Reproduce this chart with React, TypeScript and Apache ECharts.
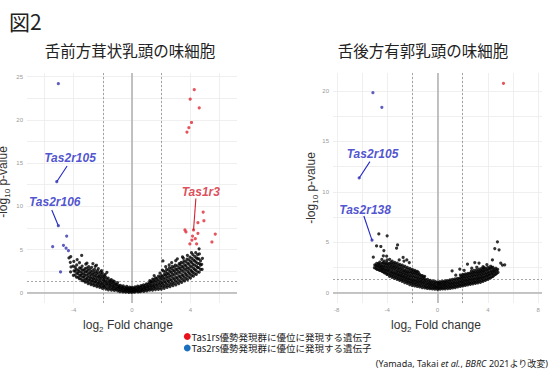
import React, { useEffect, useRef } from "react";
import * as echarts from "echarts";

// ---------- data ----------
const TITLE_FIG = "図2";
const TITLE_LEFT = "舌前方茸状乳頭の味細胞";
const TITLE_RIGHT = "舌後方有郭乳頭の味細胞";
const LEGEND_RED = "Tas1rs優勢発現群に優位に発現する遺伝子";
const LEGEND_BLUE = "Tas2rs優勢発現群に優位に発現する遺伝子";

const L_X_LABELS = [-4, 0, 4];
const L_Y_LABELS = [0, 5, 10, 15, 20, 25];
const L_X_GRID = [-6, -4, -2, 0, 2, 4, 6];
const L_Y_GRID = [0, 2.5, 5, 7.5, 10, 12.5, 15, 17.5, 20, 22.5, 25];
const R_X_LABELS = [-8, -4, 0, 4, 8];
const R_Y_LABELS = [0, 5, 10, 15, 20];
const R_X_GRID = [-8, -6, -4, -2, 0, 2, 4, 6, 8];
const R_Y_GRID = [0, 2.5, 5, 7.5, 10, 12.5, 15, 17.5, 20];

const FC_CUT = [-2, 2];
const P_CUT = 1.3;

const L_BLUE = [[-5.05,24.2],[-5.16,12.85],[-5.05,7.75],[-4.48,6.56],[-5.44,5.33],[-4.7,5.48],[-4.52,5.17],[-4.36,4.86],[-4.9,2.4]];
const L_RED = [[4.27,23.5],[3.99,22.4],[4.61,21.4],[4.08,19.7],[3.9,19.1],[3.77,18.6],[4.22,7.26],[4.88,9.34],[4.93,8.33],[4.52,8.1],[3.63,7.26],[3.7,7.03],[4.52,6.87],[5.71,6.79],[4.15,6.56],[4.11,6.1],[4.34,6.25],[5.48,5.87],[3.97,5.64],[4.43,5.64]];
const L_BLACK = [
[-0.98,0.22],[-1.02,0.48],[-0.95,0.71],[-1.05,0.93],[-0.99,1.16],
[-0.83,0.14],[-0.78,0.37],[-0.85,0.6],[-0.8,0.86],
[-0.62,0.1],[-0.57,0.31],[-0.64,0.55],[-0.6,0.79],
[-0.43,0.07],[-0.38,0.29],[-0.41,0.5],[-0.36,0.74],
[-0.22,0.05],[-0.18,0.24],[-0.24,0.46],[-0.16,0.66],
[-0.02,0.04],[0.03,0.21],[-0.05,0.43],[0.01,0.61],
[0.18,0.06],[0.23,0.26],[0.16,0.44],[0.21,0.67],
[0.42,0.09],[0.37,0.31],[0.44,0.53],[0.39,0.76],
[0.58,0.12],[0.63,0.34],[0.57,0.59],[0.62,0.83],
[0.81,0.16],[0.77,0.41],[0.84,0.64],[0.79,0.91],
[1.02,0.21],[0.97,0.46],[1.04,0.73],[0.99,1.02],
[-1.21,0.26],[-1.18,0.52],[-1.24,0.79],[-1.19,1.08],[-1.22,1.31],
[-1.41,0.31],[-1.38,0.59],[-1.43,0.92],[-1.39,1.19],[-1.42,1.52],
[-1.62,0.34],[-1.58,0.66],[-1.61,0.98],[-1.57,1.31],[-1.63,1.69],
[-1.79,0.42],[-1.83,0.74],[-1.78,1.07],[-1.82,1.38],[-1.8,1.79],[-1.84,2.12],
[-2.02,0.49],[-1.98,0.82],[-2.03,1.14],[-1.97,1.52],[-2.01,1.88],[-2.04,2.31],
[-2.21,0.62],[-2.18,0.94],[-2.23,1.29],[-2.19,1.66],[-2.22,1.98],[-2.17,2.42],
[-2.41,0.71],[-2.38,1.04],[-2.43,1.41],[-2.39,1.79],[-2.42,2.21],[-2.37,2.56],[-2.44,3.18],
[-2.61,0.82],[-2.58,1.19],[-2.63,1.56],[-2.59,1.91],[-2.62,2.29],[-2.57,2.71],
[-2.81,0.94],[-2.78,1.31],[-2.83,1.68],[-2.79,2.06],[-2.82,2.44],[-2.77,2.92],
[-3.01,1.06],[-2.98,1.44],[-3.03,1.81],[-2.99,2.19],[-3.02,2.61],[-2.97,3.02],
[-3.21,1.22],[-3.18,1.58],[-3.23,2.02],[-3.19,2.41],[-3.22,2.79],[-3.17,3.31],
[-3.41,1.39],[-3.38,1.82],[-3.43,2.21],[-3.39,2.62],[-3.42,3.09],[-3.45,4.32],
[-3.61,1.62],[-3.58,2.01],[-3.63,2.48],[-3.59,2.88],[-3.6,3.47],
[-3.81,1.81],[-3.78,2.29],[-3.83,2.72],[-3.79,3.21],[-3.76,3.84],
[-4.02,2.02],[-3.98,2.52],[-4.03,3.08],[-3.99,3.62],
[-4.21,2.41],[-4.18,2.98],[-4.23,3.52],[-4.2,4.18],[-4.32,4.02],
[-2.31,2.78],[-2.52,3.05],[-2.09,2.55],[-1.72,2.36],[-3.09,3.42],[-2.68,3.36],
[1.21,0.29],[1.18,0.56],[1.23,0.84],[1.19,1.14],[1.22,1.41],
[1.41,0.31],[1.38,0.61],[1.43,0.92],[1.39,1.24],[1.42,1.56],
[1.61,0.36],[1.58,0.69],[1.63,1.01],[1.59,1.36],[1.62,1.71],
[1.81,0.39],[1.78,0.76],[1.83,1.12],[1.79,1.49],[1.82,1.91],
[2.01,0.42],[1.98,0.81],[2.03,1.19],[1.99,1.62],[2.02,1.99],[2.08,2.62],[2.12,3.68],
[2.21,0.51],[2.18,0.89],[2.23,1.31],[2.19,1.72],[2.22,2.11],[2.17,2.49],
[2.41,0.62],[2.38,1.01],[2.43,1.44],[2.39,1.86],[2.42,2.24],[2.37,2.71],
[2.61,0.71],[2.58,1.12],[2.63,1.54],[2.59,1.99],[2.62,2.46],[2.57,2.89],[2.55,3.21],
[2.81,0.82],[2.78,1.21],[2.83,1.69],[2.79,2.14],[2.82,2.61],[2.77,3.04],
[3.01,0.91],[2.98,1.36],[3.03,1.79],[2.99,2.31],[3.02,2.74],[2.97,3.19],[3.0,3.71],
[3.21,1.06],[3.18,1.49],[3.23,1.96],[3.19,2.44],[3.22,2.91],[3.24,3.36],
[3.41,1.21],[3.38,1.66],[3.43,2.09],[3.39,2.61],[3.42,3.04],[3.37,3.52],[3.46,4.14],
[3.61,1.36],[3.58,1.81],[3.63,2.29],[3.59,2.76],[3.62,3.21],[3.57,3.69],
[3.81,1.52],[3.78,1.99],[3.83,2.46],[3.79,2.89],[3.82,3.41],[3.77,3.88],[3.8,4.33],
[4.01,1.69],[3.98,2.16],[4.03,2.61],[3.99,3.09],[4.02,3.62],[3.97,4.11],
[4.21,1.91],[4.18,2.34],[4.23,2.81],[4.19,3.29],[4.22,3.81],[4.17,4.42],
[4.41,2.12],[4.38,2.59],[4.43,3.06],[4.39,3.54],[4.42,4.02],[4.37,4.63],
[4.61,2.39],[4.58,2.91],[4.63,3.38],[4.59,3.91],[4.62,4.49],[4.6,5.08],
[4.81,2.71],[4.78,3.29],[4.83,3.98],
[1.52,1.98],[1.92,2.28],[2.31,3.02],[2.72,3.48],[3.11,3.92],[3.52,4.01],[4.08,4.63]
];
const L_BLACK_DENSE = [
[-0.9,0.33],[-0.9,0.58],[-0.9,0.82],[-0.7,0.22],[-0.7,0.47],[-0.7,0.69],[-0.5,0.18],[-0.5,0.41],[-0.5,0.63],[-0.3,0.15],[-0.3,0.37],[-0.3,0.57],[-0.1,0.13],[-0.1,0.34],[-0.1,0.53],[0.1,0.14],[0.1,0.35],[0.1,0.54],[0.3,0.17],[0.3,0.4],[0.3,0.6],[0.5,0.2],[0.5,0.45],[0.5,0.68],[0.7,0.25],[0.7,0.51],[0.7,0.75],[0.9,0.3],[0.9,0.58],[0.9,0.84],
[-1.1,0.36],[-1.1,0.64],[-1.1,0.93],[-1.3,0.42],[-1.3,0.73],[-1.3,1.04],[-1.3,1.38],[-1.5,0.48],[-1.5,0.81],[-1.5,1.14],[-1.5,1.44],[-1.7,0.55],[-1.7,0.88],[-1.7,1.2],[-1.7,1.55],[-1.9,0.62],[-1.9,0.96],[-1.9,1.3],[-1.9,1.65],[-1.9,1.98],[-2.1,0.71],[-2.1,1.05],[-2.1,1.4],[-2.1,1.76],[-2.1,2.12],[-2.3,0.81],[-2.3,1.15],[-2.3,1.52],[-2.3,1.88],[-2.3,2.26],[-2.5,0.92],[-2.5,1.27],[-2.5,1.63],[-2.5,2.02],[-2.5,2.4],[-2.7,1.02],[-2.7,1.39],[-2.7,1.76],[-2.7,2.15],[-2.7,2.55],[-2.9,1.15],[-2.9,1.52],[-2.9,1.9],[-2.9,2.3],[-2.9,2.72],[-3.1,1.28],[-3.1,1.64],[-3.1,2.05],[-3.1,2.45],[-3.1,2.86],[-3.3,1.42],[-3.3,1.81],[-3.3,2.2],[-3.3,2.6],[-3.5,1.6],[-3.5,2.0],[-3.5,2.4],[-3.5,2.82],[-3.7,1.8],[-3.7,2.2],[-3.7,2.62],[-3.9,2.05],[-3.9,2.5],[-3.9,2.95],
[1.1,0.4],[1.1,0.7],[1.1,1.0],[1.3,0.45],[1.3,0.76],[1.3,1.08],[1.3,1.3],[1.5,0.5],[1.5,0.83],[1.5,1.18],[1.5,1.5],[1.7,0.55],[1.7,0.91],[1.7,1.28],[1.7,1.65],[1.9,0.6],[1.9,0.99],[1.9,1.38],[1.9,1.78],[2.1,0.68],[2.1,1.08],[2.1,1.5],[2.1,1.9],[2.3,0.76],[2.3,1.18],[2.3,1.6],[2.3,2.03],[2.3,2.42],[2.5,0.86],[2.5,1.3],[2.5,1.74],[2.5,2.18],[2.5,2.62],[2.7,0.97],[2.7,1.42],[2.7,1.88],[2.7,2.34],[2.7,2.8],[2.9,1.08],[2.9,1.55],[2.9,2.03],[2.9,2.5],[2.9,2.96],[3.1,1.2],[3.1,1.7],[3.1,2.18],[3.1,2.66],[3.1,3.1],[3.3,1.34],[3.3,1.84],[3.3,2.32],[3.3,2.8],[3.3,3.26],[3.5,1.5],[3.5,1.98],[3.5,2.48],[3.5,2.96],[3.5,3.44],[3.7,1.65],[3.7,2.13],[3.7,2.64],[3.7,3.12],[3.7,3.6],[3.9,1.82],[3.9,2.3],[3.9,2.8],[3.9,3.3],[3.9,3.8],[4.1,2.0],[4.1,2.48],[4.1,2.98],[4.1,3.48],[4.1,3.98],[4.3,2.2],[4.3,2.68],[4.3,3.18],[4.3,3.68],[4.3,4.2],[4.5,2.42],[4.5,2.9],[4.5,3.4],[4.5,3.92],[4.5,4.4],[4.7,2.7],[4.7,3.2],[4.7,3.7]
];

const R_BLUE = [[-5.13,19.84],[-4.42,18.39],[-6.22,11.38],[-5.2,5.2]];
const R_RED = [[5.24,20.77]];
const R_BLACK = [
[-1.01,0.46],[-0.98,0.74],[-1.03,1.06],[-0.99,1.34],[-1.02,1.61],
[-0.81,0.41],[-0.78,0.69],[-0.83,0.99],[-0.79,1.31],
[-0.61,0.38],[-0.58,0.66],[-0.63,0.94],[-0.59,1.21],
[-0.41,0.36],[-0.38,0.61],[-0.43,0.89],[-0.39,1.16],
[-0.21,0.33],[-0.18,0.59],[-0.23,0.84],[-0.19,1.11],
[0.01,0.31],[-0.02,0.56],[0.03,0.81],[0.0,1.04],
[0.21,0.34],[0.18,0.57],[0.23,0.83],[0.19,1.08],
[0.41,0.36],[0.38,0.59],[0.43,0.87],[0.39,1.11],
[0.61,0.37],[0.58,0.64],[0.63,0.91],[0.59,1.16],
[0.81,0.39],[0.78,0.66],[0.83,0.94],[0.79,1.19],
[1.01,0.41],[0.98,0.69],[1.03,0.96],[0.99,1.26],[1.16,2.15],
[-1.21,0.49],[-1.18,0.81],[-1.23,1.11],[-1.19,1.41],[-1.22,1.69],
[-1.41,0.56],[-1.38,0.86],[-1.43,1.16],[-1.39,1.46],[-1.42,1.79],
[-1.61,0.61],[-1.58,0.91],[-1.63,1.21],[-1.59,1.51],[-1.62,1.86],[-1.6,2.09],
[-1.81,0.66],[-1.78,0.96],[-1.83,1.26],[-1.79,1.59],[-1.82,1.94],[-1.8,2.21],
[-2.01,0.71],[-1.98,1.01],[-2.03,1.31],[-1.99,1.66],[-2.02,1.99],[-2.0,2.31],
[-2.21,0.79],[-2.18,1.09],[-2.23,1.41],[-2.19,1.71],[-2.22,2.06],[-2.2,2.39],[-2.24,2.98],
[-2.41,0.91],[-2.38,1.19],[-2.43,1.51],[-2.39,1.81],[-2.42,2.11],[-2.4,2.49],[-2.44,3.24],
[-2.61,0.99],[-2.58,1.31],[-2.63,1.61],[-2.59,1.91],[-2.62,2.21],[-2.6,2.61],[-2.66,3.12],
[-2.81,1.11],[-2.78,1.41],[-2.83,1.69],[-2.79,1.99],[-2.82,2.36],[-2.8,2.71],[-2.73,3.49],
[-3.01,1.21],[-2.98,1.51],[-3.03,1.79],[-2.99,2.11],[-3.02,2.44],[-3.0,2.79],[-3.04,3.24],
[-3.21,1.31],[-3.18,1.61],[-3.23,1.91],[-3.19,2.21],[-3.22,2.56],[-3.2,2.91],[-3.17,4.73],[-3.25,4.4],
[-3.41,1.41],[-3.38,1.71],[-3.43,2.01],[-3.39,2.34],[-3.42,2.66],[-3.4,2.99],
[-3.61,1.51],[-3.58,1.81],[-3.63,2.11],[-3.59,2.44],[-3.62,2.79],[-3.6,3.11],
[-3.81,1.61],[-3.78,1.91],[-3.83,2.24],[-3.79,2.56],[-3.82,2.89],[-3.8,3.29],
[-4.01,1.79],[-3.98,2.06],[-4.03,2.34],[-3.99,2.66],[-4.02,2.99],[-4.0,3.24],[-4.04,3.61],
[-4.21,1.96],[-4.18,2.21],[-4.23,2.49],[-4.19,2.79],[-4.22,3.11],[-4.26,4.17],[-4.3,3.64],
[-4.41,2.11],[-4.38,2.36],[-4.43,2.61],[-4.39,2.91],[-4.42,3.29],[-4.5,4.57],
[-4.61,2.21],[-4.58,2.49],[-4.63,2.76],[-4.59,3.01],[-4.66,5.82],[-4.84,4.63],
[-4.81,2.31],[-4.78,2.61],[-4.83,2.89],[-4.0,5.63],
[-5.01,2.46],[-4.98,2.74],[-5.1,3.51],
[1.21,0.46],[1.18,0.71],[1.23,0.99],[1.19,1.31],
[1.41,0.49],[1.38,0.76],[1.43,1.06],[1.39,1.36],
[1.61,0.56],[1.58,0.81],[1.63,1.11],[1.59,1.41],
[1.81,0.61],[1.78,0.86],[1.83,1.16],[1.79,1.46],[1.82,1.74],[1.77,2.32],
[2.01,0.66],[1.98,0.91],[2.03,1.21],[1.99,1.51],[2.02,1.81],
[2.21,0.71],[2.18,0.96],[2.23,1.26],[2.19,1.56],[2.22,1.86],
[2.41,0.76],[2.38,1.01],[2.43,1.31],[2.39,1.61],[2.42,1.91],[2.38,2.82],
[2.61,0.81],[2.58,1.06],[2.63,1.36],[2.59,1.66],[2.62,1.96],
[2.81,0.86],[2.78,1.11],[2.83,1.41],[2.79,1.71],[2.82,2.01],
[3.01,0.91],[2.98,1.16],[3.03,1.46],[2.99,1.76],[3.02,2.06],[2.96,2.98],
[3.21,0.96],[3.18,1.21],[3.23,1.51],[3.19,1.81],[3.22,2.11],[3.3,2.92],
[3.41,1.01],[3.38,1.31],[3.43,1.61],[3.39,1.91],[3.42,2.21],
[3.61,1.11],[3.58,1.41],[3.63,1.71],[3.59,2.01],[3.62,2.31],[3.62,2.58],
[3.81,1.21],[3.78,1.51],[3.83,1.81],[3.79,2.11],[3.82,2.41],
[4.01,1.31],[3.98,1.61],[4.03,1.91],[3.99,2.21],[4.02,2.51],
[4.21,1.46],[4.18,1.76],[4.23,2.06],[4.19,2.36],[4.22,2.61],
[4.41,1.61],[4.38,1.91],[4.43,2.21],[4.39,2.51],[4.36,3.24],
[4.61,1.81],[4.58,2.11],[4.63,2.41],[4.55,4.37],
[4.81,2.01],[4.78,2.31],[4.76,5.03],[4.89,4.24],
[5.02,2.92],[5.34,2.75],[5.16,2.72],
[2.72,2.42],[3.12,2.51],[1.45,1.72],[2.12,2.21],[3.92,2.78]
];
const R_BLACK_DENSE = [
[-0.9,0.55],[-0.9,0.86],[-0.9,1.17],[-0.7,0.52],[-0.7,0.82],[-0.7,1.1],[-0.5,0.48],[-0.5,0.76],[-0.5,1.04],[-0.3,0.46],[-0.3,0.72],[-0.3,0.99],[-0.1,0.44],[-0.1,0.69],[-0.1,0.95],[0.1,0.44],[0.1,0.7],[0.1,0.95],[0.3,0.46],[0.3,0.72],[0.3,0.98],[0.5,0.48],[0.5,0.75],[0.5,1.02],[0.7,0.5],[0.7,0.79],[0.7,1.06],[0.9,0.53],[0.9,0.82],[0.9,1.1],
[-1.1,0.63],[-1.1,0.95],[-1.1,1.26],[-1.1,1.55],[-1.3,0.69],[-1.3,1.0],[-1.3,1.31],[-1.3,1.62],[-1.5,0.74],[-1.5,1.05],[-1.5,1.36],[-1.5,1.68],[-1.5,1.98],[-1.7,0.8],[-1.7,1.11],[-1.7,1.42],[-1.7,1.76],[-1.7,2.05],[-1.9,0.86],[-1.9,1.17],[-1.9,1.5],[-1.9,1.82],[-1.9,2.12],[-2.1,0.93],[-2.1,1.24],[-2.1,1.56],[-2.1,1.89],[-2.1,2.2],[-2.3,1.02],[-2.3,1.33],[-2.3,1.64],[-2.3,1.96],[-2.3,2.28],[-2.5,1.12],[-2.5,1.42],[-2.5,1.73],[-2.5,2.04],[-2.5,2.38],[-2.7,1.2],[-2.7,1.53],[-2.7,1.83],[-2.7,2.14],[-2.7,2.5],[-2.9,1.3],[-2.9,1.63],[-2.9,1.93],[-2.9,2.26],[-2.9,2.6],[-3.1,1.4],[-3.1,1.72],[-3.1,2.03],[-3.1,2.36],[-3.1,2.7],[-3.3,1.5],[-3.3,1.82],[-3.3,2.13],[-3.3,2.46],[-3.3,2.8],[-3.5,1.6],[-3.5,1.92],[-3.5,2.24],[-3.5,2.56],[-3.5,2.9],[-3.7,1.7],[-3.7,2.02],[-3.7,2.35],[-3.7,2.68],[-3.7,3.0],[-3.9,1.82],[-3.9,2.14],[-3.9,2.46],[-3.9,2.8],[-4.1,1.92],[-4.1,2.22],[-4.1,2.54],[-4.1,2.86],[-4.3,2.04],[-4.3,2.33],[-4.3,2.65],[-4.3,2.98],[-4.5,2.2],[-4.5,2.48],[-4.5,2.78],[-4.7,2.3],[-4.7,2.58],[-4.7,2.86],[-4.9,2.4],[-4.9,2.68],
[1.1,0.56],[1.1,0.86],[1.1,1.14],[1.3,0.6],[1.3,0.9],[1.3,1.2],[1.5,0.64],[1.5,0.94],[1.5,1.25],[1.7,0.7],[1.7,1.0],[1.7,1.32],[1.9,0.75],[1.9,1.05],[1.9,1.36],[1.9,1.64],[2.1,0.8],[2.1,1.1],[2.1,1.4],[2.1,1.7],[2.3,0.86],[2.3,1.15],[2.3,1.46],[2.3,1.76],[2.5,0.9],[2.5,1.2],[2.5,1.51],[2.5,1.82],[2.7,0.96],[2.7,1.26],[2.7,1.56],[2.7,1.86],[2.7,2.15],[2.9,1.0],[2.9,1.31],[2.9,1.62],[2.9,1.92],[2.9,2.2],[3.1,1.06],[3.1,1.36],[3.1,1.66],[3.1,1.96],[3.1,2.26],[3.3,1.12],[3.3,1.42],[3.3,1.72],[3.3,2.02],[3.3,2.32],[3.5,1.18],[3.5,1.48],[3.5,1.8],[3.5,2.1],[3.5,2.4],[3.7,1.26],[3.7,1.56],[3.7,1.88],[3.7,2.18],[3.7,2.46],[3.9,1.36],[3.9,1.66],[3.9,1.96],[3.9,2.28],[4.1,1.46],[4.1,1.76],[4.1,2.06],[4.1,2.38],[4.3,1.56],[4.3,1.86],[4.3,2.16],[4.3,2.46],[4.5,1.72],[4.5,2.02],[4.5,2.32],[4.7,1.9],[4.7,2.2]
];

// gene annotations: label, label position, leader line start, leader line end (data units)
const L_ANNOT = [
  { name: "Tas2r105", kind: "blue", at: [-4.25, 15.6], from: [-4.45, 14.66], to: [-5.16, 12.85] },
  { name: "Tas2r106", kind: "blue", at: [-5.3, 10.5], from: [-5.5, 9.57], to: [-5.05, 7.75] },
  { name: "Tas1r3", kind: "red", at: [4.72, 11.6], from: [4.38, 10.9], to: [4.22, 7.26] },
];
const R_ANNOT = [
  { name: "Tas2r105", kind: "blue", at: [-5.16, 13.76], from: [-5.37, 13.0], to: [-6.22, 11.38] },
  { name: "Tas2r138", kind: "blue", at: [-5.75, 8.2], from: [-5.85, 7.6], to: [-5.19, 5.16] },
];

// ---------- styles ----------
const C_BLUE_PT = "#3636b0";
const C_RED_PT = "#e02a36";
const C_BLUE_TXT = "#2327c4";
const C_RED_TXT = "#d4202f";
const C_GRID = "#ebebeb";
const C_REF = "#b3b3b3";
const C_DASH = "#8f8f8f";
const SANS = "'Liberation Sans', Arial, sans-serif";
const CJK = "'Noto Sans CJK JP', sans-serif";

function panelSeries(idx: number, xGrid: number[], yGrid: number[], black: number[][], blue: number[][], red: number[][], annots: any[]) {
  const ax = { xAxisIndex: idx, yAxisIndex: idx };
  const series: any[] = [];
  series.push({
    type: "scatter", ...ax, data: [], silent: true, z: 1,
    markLine: {
      silent: true, symbol: ["none", "none"], label: { show: false }, animation: false, z: 1,
      data: [
        ...xGrid.map((v) => ({ xAxis: v, lineStyle: { color: C_GRID, width: 0.8, type: "solid" } })),
        ...yGrid.map((v) => ({ yAxis: v, lineStyle: { color: C_GRID, width: 0.8, type: "solid" } })),
      ],
    },
  });
  series.push({
    type: "scatter", ...ax, data: [], silent: true, z: 2,
    markLine: {
      silent: true, symbol: ["none", "none"], label: { show: false }, animation: false, z: 2,
      data: [
        { xAxis: 0, lineStyle: { color: C_REF, width: 1.6, type: "solid" } },
        { yAxis: 0, lineStyle: { color: C_REF, width: 1.6, type: "solid" } },
        ...FC_CUT.map((v) => ({ xAxis: v, lineStyle: { color: C_DASH, width: 0.8, type: [2, 2] } })),
        { yAxis: P_CUT, lineStyle: { color: C_DASH, width: 0.8, type: [2, 2] } },
      ],
    },
  });
  series.push({
    type: "scatter", ...ax, data: black, symbolSize: 3.2, z: 3, silent: true,
    itemStyle: { color: "#000" },
  });
  series.push({
    name: LEGEND_BLUE, type: "scatter", ...ax, data: blue, symbolSize: 3.2, z: 4, silent: true,
    itemStyle: { color: C_BLUE_PT },
  });
  series.push({
    name: LEGEND_RED, type: "scatter", ...ax, data: red, symbolSize: 3.2, z: 4, silent: true,
    itemStyle: { color: C_RED_PT },
  });
  annots.forEach((a) => {
    const col = a.kind === "red" ? C_RED_TXT : C_BLUE_TXT;
    series.push({
      type: "line", ...ax, data: [a.from, a.to], symbol: "none", silent: true, z: 5,
      lineStyle: { color: col, width: 1.1 },
    });
    series.push({
      type: "scatter", ...ax, data: [{ value: a.at, name: a.name }], symbolSize: 1, silent: true, z: 6,
      itemStyle: { color: "rgba(0,0,0,0)" },
      label: {
        show: true, position: "inside", formatter: "{b}", color: col,
        fontSize: 12, fontWeight: "bold", fontStyle: "italic", fontFamily: SANS,
      },
    });
  });
  return series;
}

function axisLabelStyle(values: number[]) {
  return { customValues: values, fontSize: 6, color: "#9a9a9a", margin: 4, fontFamily: SANS };
}

export default function App() {
  const ref = useRef<HTMLDivElement>(null);
  useEffect(() => {
    if (!ref.current) return;
    const chart = echarts.init(ref.current, null, { renderer: "svg" });
    const axisCommon = {
      type: "value",
      axisLine: { show: false },
      axisTick: { show: false },
      splitLine: { show: false },
    };
    const subTitle = (main1: string, sub: string, main2: string) => ({
      text: `{a|${main1}}{s|${sub}}{a|${main2}}`,
      rich: {
        a: { fontSize: 12, lineHeight: 16, verticalAlign: "middle", fill: "#333", color: "#333", fontFamily: SANS },
        s: { fontSize: 8, lineHeight: 10, verticalAlign: "bottom", fill: "#333", color: "#333", fontFamily: SANS },
      },
      align: "center", textAlign: "center", verticalAlign: "middle", textVerticalAlign: "middle",
    });
    const option: any = {
      animation: false,
      backgroundColor: "#fff",
      textStyle: { fontFamily: SANS },
      grid: [
        { left: 27, width: 210, top: 73, height: 230 },
        { left: 333, width: 209, top: 73, height: 230 },
      ],
      xAxis: [
        { ...axisCommon, gridIndex: 0, min: -7.2, max: 7.2, axisLabel: axisLabelStyle(L_X_LABELS) },
        { ...axisCommon, gridIndex: 1, min: -8.3, max: 8.3, axisLabel: axisLabelStyle(R_X_LABELS) },
      ],
      yAxis: [
        { ...axisCommon, gridIndex: 0, min: -1.19, max: 25.43, axisLabel: axisLabelStyle(L_Y_LABELS) },
        { ...axisCommon, gridIndex: 1, min: -1.04, max: 21.8, axisLabel: axisLabelStyle(R_Y_LABELS) },
      ],
      series: [
        ...panelSeries(0, L_X_GRID, L_Y_GRID, [...L_BLACK, ...L_BLACK_DENSE], L_BLUE, L_RED, L_ANNOT),
        ...panelSeries(1, R_X_GRID, R_Y_GRID, [...R_BLACK, ...R_BLACK_DENSE], R_BLUE, R_RED, R_ANNOT),
      ],
      graphic: [
        { type: "text", x: 9, y: 21, style: { text: TITLE_FIG, fontSize: 21, fontFamily: CJK, fill: "#222", verticalAlign: "middle", textVerticalAlign: "middle" } },
        { type: "text", x: 130, y: 50, style: { text: TITLE_LEFT, fontSize: 15.5, fontFamily: CJK, fill: "#222", align: "center", textAlign: "center", verticalAlign: "middle", textVerticalAlign: "middle" } },
        { type: "text", x: 423, y: 50, style: { text: TITLE_RIGHT, fontSize: 15.5, fontFamily: CJK, fill: "#222", align: "center", textAlign: "center", verticalAlign: "middle", textVerticalAlign: "middle" } },
        { type: "text", x: 128, y: 325, style: subTitle("log", "2", " Fold change") },
        { type: "text", x: 436, y: 325, style: subTitle("log", "2", " Fold change") },
        { type: "text", x: 3, y: 182, rotation: Math.PI / 2, style: subTitle("-log", "10", " p-value") },
        { type: "text", x: 311, y: 188, rotation: Math.PI / 2, style: subTitle("-log", "10", " p-value") },
        { type: "circle", shape: { cx: 187.3, cy: 336.5, r: 3.4 }, style: { fill: "#e8121c" } },
        { type: "circle", shape: { cx: 187.3, cy: 348, r: 3.4 }, style: { fill: "#1b6fbf" } },
        { type: "text", x: 191.5, y: 336.5, style: { text: LEGEND_RED, fontSize: 9.5, lineHeight: 10, fontFamily: CJK, fill: "#222", verticalAlign: "middle", textVerticalAlign: "middle" } },
        { type: "text", x: 191.5, y: 348, style: { text: LEGEND_BLUE, fontSize: 9.5, lineHeight: 10, fontFamily: CJK, fill: "#222", verticalAlign: "middle", textVerticalAlign: "middle" } },
        {
          type: "text", x: 548, y: 363,
          style: {
            text: "{n|(Yamada, Takai }{i|et al.}{n|, }{i|BBRC}{n| 2021より改変)}",
            rich: {
              n: { fontSize: 9, fill: "#222", color: "#222", fontFamily: "'Noto Sans', 'Noto Sans CJK JP', sans-serif" },
              i: { fontSize: 9, fill: "#222", color: "#222", fontStyle: "italic", fontFamily: "'Noto Sans', sans-serif" },
            },
            align: "right", textAlign: "right", verticalAlign: "middle", textVerticalAlign: "middle",
          },
        },
      ],
    };
    chart.setOption(option);
    return () => chart.dispose();
  }, []);
  return (
    <div
      ref={ref}
      style={{ position: "fixed", left: 0, top: 0, width: 552, height: 370, background: "#fff" }}
    />
  );
}
